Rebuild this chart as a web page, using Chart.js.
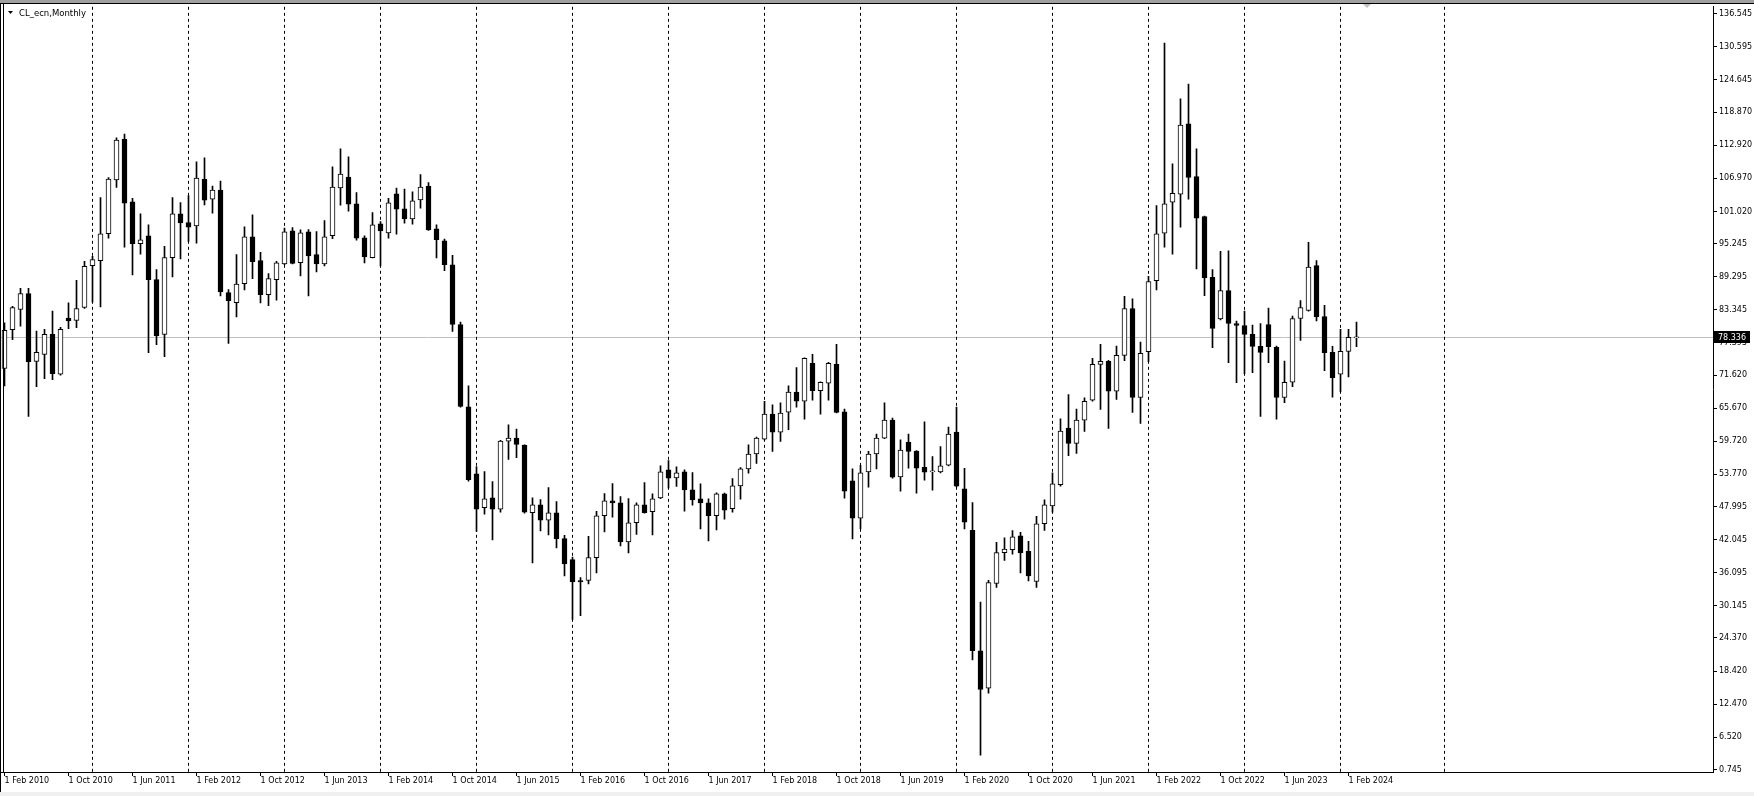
<!DOCTYPE html>
<html>
<head>
<meta charset="utf-8">
<script src="https://cdn.jsdelivr.net/npm/chart.js@4.4.1/dist/chart.umd.min.js"></script>
<style>
  html, body { margin: 0; padding: 0; background: #fff; overflow: hidden; }
  #wrap { width: 1754px; height: 796px; }
</style>
</head>
<body>
<div id="wrap"><canvas id="chart" width="1754" height="796"></canvas></div>
<script>
// CL_ecn monthly candles, Feb 2010 .. Mar 2024 (bar 0 = Feb 2010)
const opens = [
  72.83, 79.76, 83.40, 86.26, 74.09, 75.34, 78.92, 71.76, 81.85, 81.43, 83.76,
  91.28, 92.17, 97.01, 106.67, 114.02, 102.74, 95.22, 96.65, 88.77, 78.92, 92.71, 100.59,
  99.04, 98.44, 106.85, 103.21, 104.88, 86.44, 84.65, 88.05, 96.47, 92.17, 86.08, 88.77,
  91.57, 97.54, 91.81, 97.36, 93.25, 91.57, 96.65, 105.24, 107.21, 102.38, 96.29, 92.71,
  98.80, 97.18, 104.17, 101.48, 99.69, 103.09, 105.60, 97.90, 95.75, 91.45, 80.71, 65.91,
  53.85, 47.77, 49.56, 47.53, 59.76, 60.30, 59.05, 46.87, 48.30, 45.56, 46.87, 42.22,
  38.45, 34.70, 34.70, 38.81, 46.33, 49.02, 48.66, 41.62, 45.08, 48.30, 47.05, 49.56,
  54.57, 53.14, 54.21, 50.99, 49.38, 48.66, 46.33, 50.27, 47.59, 51.70, 54.75, 57.43,
  60.12, 64.60, 61.37, 64.96, 68.54, 66.92, 73.73, 68.83, 70.15, 73.55, 65.01, 52.60,
  45.91, 54.21, 57.43, 60.30, 63.52, 53.32, 59.58, 57.97, 55.05, 54.21, 54.21, 55.41,
  61.37, 51.17, 43.71, 22.04, 15.36, 34.16, 39.71, 40.24, 42.75, 39.95, 34.52, 44.90,
  48.12, 51.94, 62.09, 59.34, 63.52, 67.10, 73.55, 74.09, 68.72, 75.16, 83.58, 67.58,
  75.82, 88.59, 97.12, 102.68, 104.11, 116.76, 107.27, 100.11, 89.19, 81.72, 86.80, 80.89,
  80.53, 78.92, 76.77, 80.71, 76.59, 67.58, 70.33, 81.79, 83.22, 91.28, 82.14, 75.70,
  71.76, 75.88, 78.30
];
const highs = [
  81.01, 83.99, 87.22, 87.22, 79.52, 79.82, 83.10, 80.18, 84.59, 88.65, 92.05,
  92.95, 103.51, 107.09, 114.25, 114.91, 103.39, 100.59, 98.62, 90.56, 94.74, 103.51, 102.62,
  103.87, 109.96, 110.67, 105.60, 106.50, 86.98, 93.25, 98.26, 100.41, 93.66, 89.84, 92.05,
  98.02, 98.14, 97.70, 97.78, 97.42, 99.39, 109.06, 112.28, 110.85, 104.41, 96.65, 100.83,
  99.21, 103.39, 105.24, 105.06, 104.53, 107.63, 106.20, 98.62, 96.05, 93.13, 81.13, 69.67,
  55.17, 54.27, 52.48, 59.90, 62.69, 61.91, 59.10, 49.56, 49.26, 51.41, 48.90, 42.81,
  38.93, 35.23, 42.63, 47.11, 50.33, 52.12, 49.79, 49.44, 48.66, 52.30, 50.27, 55.29,
  56.24, 55.11, 54.57, 54.09, 52.06, 49.38, 50.45, 50.39, 53.02, 54.99, 59.10, 60.48,
  66.92, 66.27, 66.63, 69.67, 72.95, 74.70, 75.34, 70.40, 73.91, 77.13, 65.49, 54.75,
  55.41, 57.91, 61.01, 66.63, 63.88, 59.99, 61.01, 58.05, 63.22, 56.96, 58.75, 62.27,
  65.85, 54.87, 48.72, 30.82, 34.75, 41.56, 42.39, 43.65, 43.35, 41.74, 46.21, 49.20,
  54.03, 63.76, 68.12, 65.49, 67.52, 74.62, 77.13, 74.27, 76.83, 85.78, 85.31, 77.55,
  89.37, 102.08, 131.26, 109.60, 121.24, 123.92, 112.28, 100.20, 90.56, 93.84, 93.96, 81.30,
  83.10, 80.59, 80.89, 83.64, 76.83, 74.15, 82.20, 85.01, 95.45, 92.17, 84.17, 76.77,
  79.82, 79.82, 81.13
];
const lows = [
  69.67, 77.97, 80.41, 64.18, 69.55, 70.98, 70.80, 71.60, 79.94, 80.12, 83.60,
  84.71, 83.88, 96.23, 105.36, 94.62, 89.60, 93.36, 75.64, 77.07, 74.92, 89.25, 92.47,
  95.63, 95.33, 102.20, 100.71, 85.84, 77.31, 82.08, 86.92, 88.95, 84.59, 84.11, 85.07,
  91.45, 91.57, 89.43, 85.84, 90.14, 91.22, 96.11, 102.14, 101.06, 95.87, 91.75, 92.65,
  91.22, 96.23, 96.95, 98.92, 98.74, 101.60, 97.60, 92.65, 90.38, 79.46, 65.85, 52.54,
  43.53, 46.63, 41.98, 47.00, 56.48, 56.78, 46.81, 37.86, 43.59, 42.87, 40.55, 35.53,
  27.71, 28.37, 34.10, 36.07, 43.41, 46.09, 40.90, 39.65, 42.99, 46.80, 42.87, 49.40,
  51.35, 51.59, 47.17, 48.24, 43.95, 41.80, 43.77, 45.74, 47.00, 49.32, 53.97, 55.76,
  59.95, 57.91, 59.70, 61.79, 65.85, 63.70, 67.10, 64.60, 67.10, 64.80, 49.50, 42.16,
  43.95, 51.47, 54.75, 60.20, 53.10, 50.75, 54.87, 50.39, 52.72, 50.93, 54.03, 55.29,
  51.50, 43.95, 20.43, 3.30, 14.46, 33.44, 38.33, 39.41, 36.07, 34.63, 33.44, 43.71,
  46.99, 51.64, 57.13, 57.55, 61.49, 66.92, 65.43, 62.03, 67.22, 74.21, 64.90, 62.93,
  74.02, 86.92, 94.62, 93.36, 98.20, 103.21, 90.68, 85.90, 76.53, 81.55, 73.85, 70.27,
  71.88, 72.06, 64.18, 73.85, 63.70, 66.68, 69.55, 77.85, 83.10, 81.37, 72.42, 67.64,
  68.65, 71.28, 76.71
];
const closes = [
  79.64, 83.76, 86.26, 74.03, 75.70, 78.92, 71.88, 79.82, 81.37, 83.58, 91.16,
  92.35, 97.01, 106.85, 113.84, 102.50, 95.22, 95.93, 88.77, 78.68, 92.71, 100.59, 98.98,
  98.20, 107.03, 103.03, 104.88, 86.56, 85.01, 87.99, 96.47, 91.99, 86.08, 88.95, 91.81,
  97.36, 91.69, 97.18, 93.01, 91.57, 96.47, 105.42, 107.75, 102.32, 96.23, 92.83, 98.62,
  97.54, 102.56, 101.42, 99.69, 102.91, 105.42, 97.72, 95.93, 91.45, 80.71, 65.97, 52.84,
  47.53, 49.38, 47.53, 59.76, 60.30, 59.17, 46.99, 48.30, 45.56, 46.87, 42.16, 37.68,
  34.46, 34.46, 38.81, 46.33, 49.02, 48.66, 41.62, 45.08, 48.30, 46.87, 49.38, 54.21,
  53.08, 54.03, 50.99, 49.20, 48.66, 46.33, 50.27, 47.35, 51.70, 54.75, 57.43, 60.30,
  64.60, 61.37, 64.78, 68.54, 66.92, 74.62, 68.83, 70.33, 73.73, 64.89, 50.75, 45.91,
  54.03, 57.43, 60.30, 63.52, 53.26, 58.15, 57.91, 54.87, 54.15, 54.21, 55.29, 61.01,
  51.64, 45.20, 22.10, 15.12, 34.34, 39.71, 40.36, 42.57, 39.65, 35.53, 44.90, 48.30,
  52.06, 61.55, 59.34, 63.52, 66.92, 73.55, 74.09, 68.72, 75.16, 83.58, 67.58, 75.52,
  88.41, 97.00, 102.37, 104.29, 116.52, 107.15, 99.81, 89.07, 79.99, 86.80, 80.89, 80.53,
  78.92, 76.77, 75.70, 76.71, 67.58, 70.33, 81.79, 83.76, 91.04, 82.08, 75.64, 71.16,
  75.88, 78.38, 78.336
];

// time scale labels (every 8th bar) and yearly period separators
const xTickBars = [0, 8, 16, 24, 32, 40, 48, 56, 64, 72, 80, 88, 96, 104, 112, 120, 128, 136, 144, 152, 160, 168];
const xTickLabels = ['1 Feb 2010', '1 Oct 2010', '1 Jun 2011', '1 Feb 2012', '1 Oct 2012', '1 Jun 2013',
  '1 Feb 2014', '1 Oct 2014', '1 Jun 2015', '1 Feb 2016', '1 Oct 2016', '1 Jun 2017', '1 Feb 2018',
  '1 Oct 2018', '1 Jun 2019', '1 Feb 2020', '1 Oct 2020', '1 Jun 2021', '1 Feb 2022', '1 Oct 2022',
  '1 Jun 2023', '1 Feb 2024'];
const separatorBars = [11, 23, 35, 47, 59, 71, 83, 95, 107, 119, 131, 143, 155, 167, 180];

// price scale labels
const yTicks = [0.745, 6.520, 12.470, 18.420, 24.370, 30.145, 36.095, 42.045, 47.995, 53.770, 59.720,
  65.670, 71.620, 77.395, 83.345, 89.295, 95.245, 101.020, 106.970, 112.920, 118.870, 124.645, 130.595, 136.545];

const symbolTitle = 'CL_ecn,Monthly';
const bidPrice = 78.336;

const FONT = '"DejaVu Sans", sans-serif';

const bodies = opens.map((o, i) => ({ x: i, y: [Math.min(o, closes[i]), Math.max(o, closes[i])] }));
const wicks = lows.map((l, i) => ({ x: i, y: [l, highs[i]] }));
const bodyFill = opens.map((o, i) => closes[i] >= o ? '#ffffff' : '#000000');

const decor = {
  id: 'decor',
  beforeDatasetsDraw(chart) {
    const { ctx, chartArea: a, scales: { x, y } } = chart;
    ctx.save();
    // bid line
    const py = Math.floor(y.getPixelForValue(bidPrice)) + 0.5;
    ctx.strokeStyle = '#c0c0c0';
    ctx.lineWidth = 1;
    ctx.beginPath();
    ctx.moveTo(a.left, py);
    ctx.lineTo(a.right, py);
    ctx.stroke();
    // period separators
    ctx.strokeStyle = '#000';
    ctx.setLineDash([3, 3]);
    separatorBars.forEach(b => {
      const px = Math.floor(x.getPixelForValue(b)) + 0.5;
      ctx.beginPath();
      ctx.moveTo(px, a.top);
      ctx.lineTo(px, a.bottom);
      ctx.stroke();
    });
    ctx.restore();
  },
  afterDraw(chart) {
    const { ctx, chartArea: a, scales: { x, y } } = chart;
    ctx.save();
    // window frame
    ctx.fillStyle = '#a0a0a0';
    ctx.fillRect(0, 0, chart.width, 3);
    ctx.fillStyle = '#000';
    ctx.fillRect(0, 3, chart.width, 1);
    ctx.fillRect(0, 3, 1, chart.height);
    ctx.fillRect(3, 3, 1, a.bottom - 3);
    ctx.fillStyle = '#f0f0f0';
    ctx.fillRect(0, 792, chart.width, 4);

    // symbol title
    ctx.fillStyle = '#000';
    ctx.beginPath();
    ctx.moveTo(8, 11);
    ctx.lineTo(13, 11);
    ctx.lineTo(10.5, 14);
    ctx.closePath();
    ctx.fill();
    ctx.font = '8.5px ' + FONT;
    ctx.textBaseline = 'alphabetic';
    ctx.textAlign = 'left';
    ctx.fillText(symbolTitle, 19, 15.5);

    // bid price box on the price scale
    const py = Math.floor(y.getPixelForValue(bidPrice));
    ctx.fillStyle = '#000';
    ctx.fillRect(a.right + 1, py - 6, 36, 12);
    ctx.fillStyle = '#fff';
    ctx.font = '8px ' + FONT;
    ctx.textBaseline = 'middle';
    ctx.fillText(bidPrice.toFixed(3), a.right + 5, py + 0.5);

    // chart shift marker
    const sx = Math.round(x.getPixelForValue(opens.length + 0.3));
    ctx.fillStyle = '#c0c0c0';
    ctx.beginPath();
    ctx.moveTo(sx - 4, 4);
    ctx.lineTo(sx + 4, 4);
    ctx.lineTo(sx, 8);
    ctx.closePath();
    ctx.fill();
    ctx.restore();
  }
};

new Chart(document.getElementById('chart'), {
  type: 'bar',
  data: {
    datasets: [
      {
        label: 'body',
        data: bodies,
        backgroundColor: bodyFill,
        borderColor: '#000',
        borderWidth: 1,
        borderSkipped: false,
        barThickness: 5,
        minBarLength: 1,
        grouped: false
      },
      {
        label: 'wick',
        data: wicks,
        backgroundColor: '#000',
        borderWidth: 0,
        barThickness: 1,
        minBarLength: 1,
        grouped: false
      }
    ]
  },
  options: {
    responsive: false,
    devicePixelRatio: 1,
    animation: false,
    layout: { padding: { top: 4, left: 0, right: 0, bottom: 0 } },
    plugins: { legend: { display: false }, tooltip: { enabled: false } },
    scales: {
      x: {
        type: 'linear',
        offset: false,
        min: -0.5625,
        max: 213.5625,
        afterBuildTicks: s => { s.ticks = xTickBars.map(v => ({ value: v })); },
        afterFit: s => { s.height = 24; },
        grid: { display: true, offset: false, drawOnChartArea: false, drawTicks: true, tickLength: 4, color: '#000' },
        border: { display: true, color: '#000', width: 1 },
        ticks: {
          align: 'start',
          autoSkip: false,
          maxRotation: 0,
          padding: 0,
          color: '#000',
          font: { family: FONT, size: 8 },
          callback: (v, i) => xTickLabels[i]
        }
      },
      y: {
        type: 'linear',
        position: 'right',
        min: 0.287,
        max: 137.798,
        afterBuildTicks: s => { s.ticks = yTicks.map(v => ({ value: v })); },
        afterFit: s => { s.width = 41; },
        grid: { display: true, drawOnChartArea: false, drawTicks: true, tickLength: 4, color: '#000' },
        border: { display: true, color: '#000', width: 1 },
        ticks: {
          autoSkip: false,
          padding: 2,
          color: '#000',
          font: { family: FONT, size: 8 },
          callback: v => v.toFixed(3)
        }
      }
    }
  },
  plugins: [decor]
});
</script>
</body>
</html>
